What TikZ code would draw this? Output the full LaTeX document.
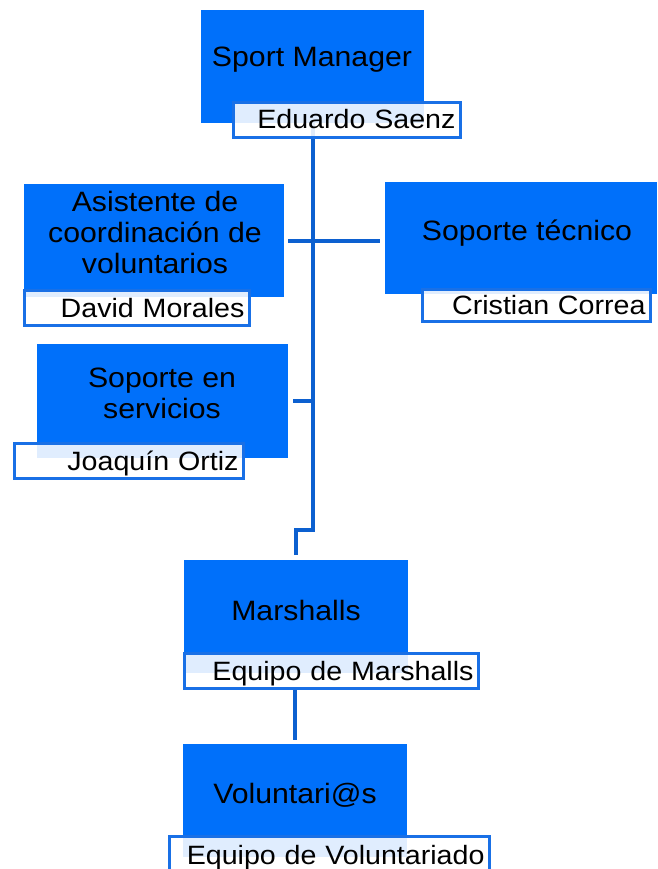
\documentclass[tikz,border=0pt]{standalone}
\usepackage{fontspec}
\setmainfont{Liberation Sans}[FakeStretch=1.08]
\definecolor{boxblue}{RGB}{0,112,250}
\definecolor{nameline}{RGB}{25,112,230}
\definecolor{linkblue}{RGB}{12,96,208}
\tikzset{
  bluebox/.style={fill=boxblue, draw=none, inner sep=0pt, anchor=north west},
  title/.style={font=\fontsize{28}{31}\selectfont, align=center, inner sep=0pt},
  namebox/.style={draw=nameline, line width=3pt, fill=white, fill opacity=0.88,
    text opacity=1, inner xsep=5pt, inner ysep=0pt, align=right, anchor=north west,
    font=\fontsize{26.5}{30}\selectfont, text height=18pt, text depth=0pt},
  link/.style={draw=linkblue, line width=4pt}
}
\begin{document}
\begin{tikzpicture}[x=1pt, y=-1pt]
    \useasboundingbox (0,0) rectangle (657,869);
    \coordinate (trunk) at (313,0);

    % Pola (prostokaty) - kolejno od gory
    \node[bluebox, minimum width=223pt, minimum height=113pt] (sm) at (201,10) {};
    \node[bluebox, minimum width=260pt, minimum height=113pt] (as) at (24,184) {};
    \node[bluebox, minimum width=272pt, minimum height=112pt] (st) at (385,182) {};
    \node[bluebox, minimum width=251pt, minimum height=114pt] (sv) at (37,344) {};
    \node[bluebox, minimum width=224pt, minimum height=113pt] (ma) at (184,560) {};
    \node[bluebox, minimum width=224pt, minimum height=113pt] (vo) at (183,744) {};

    % Linie laczace
    \draw[link] (sm.south -| trunk) -- (trunk |- 0,530) -- (ma.north |- 0,530) -- ([yshift=5pt]ma.north);
    \draw[link] ([xshift=4pt]as.east) -- ([xshift=-5pt]as.east -| st.west);
    \draw[link] ([xshift=5pt]sv.east) -- (sv.east -| trunk);

    % Nazwy stanowisk
    \node[title, anchor=base] (smt) at (312,67) {Sport Manager};
    \node[title] (ast) at (155,232) {Asistente de\\coordinación de\\voluntarios};
    \node[title, anchor=base] (stt) at (527,240) {Soporte técnico};
    \node[title] (svt) at (162,393) {Soporte en\\servicios};
    \node[title, anchor=base] (mat) at (296,620) {Marshalls};
    \node[title, anchor=base] (vot) at (295,803) {Voluntari@s};

    % Osoby - biale ramki na dole pol
    \node[namebox, text width=217pt, minimum height=35pt] (smn) at (232,101) {Eduardo Saenz};
    \node[namebox, text width=215pt, minimum height=35pt] (asn) at (23,289) {David Morales};
    \node[namebox, text width=218pt, minimum height=32pt] (stn) at (421,288) {Cristian Correa};
    \node[namebox, text width=219pt, minimum height=35pt] (svn) at (13,442) {Joaquín Ortiz};
    \node[namebox, text width=284pt, minimum height=35pt] (man) at (183,652) {Equipo de Marshalls};
    \node[namebox, text width=310pt, minimum height=37pt] (von) at (168,835) {Equipo de Voluntariado};

    \draw[link] (vo.north |- man.south) -- ([yshift=4pt]vo.north);
\end{tikzpicture}
\end{document}
